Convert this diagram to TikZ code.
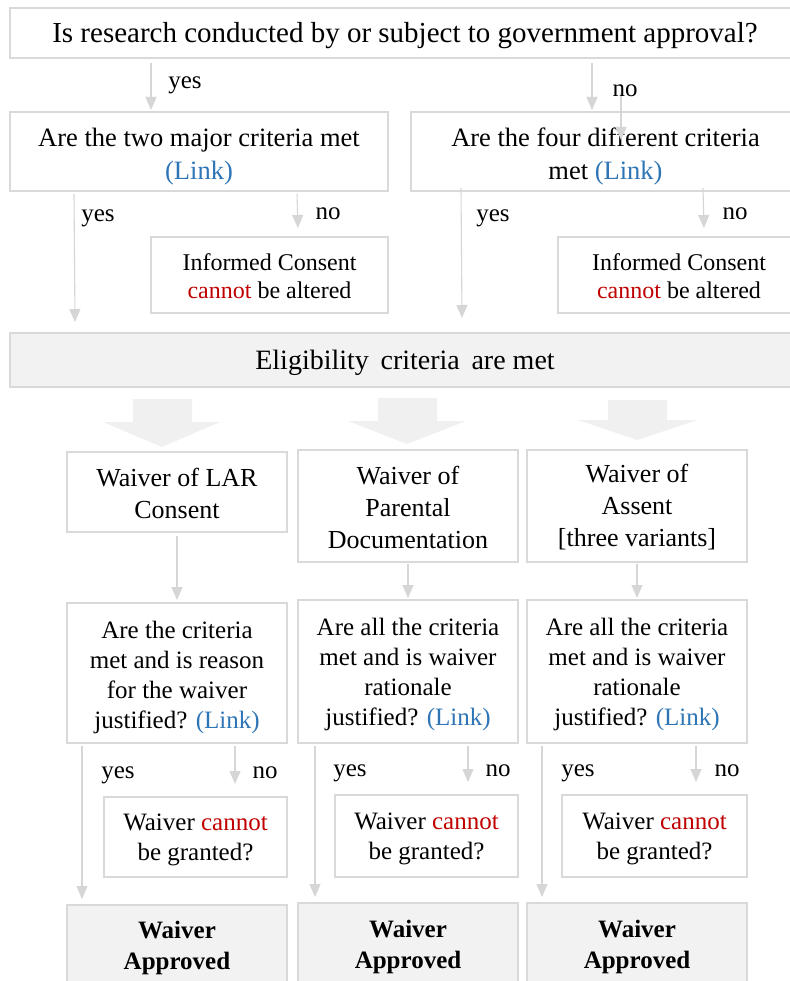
\documentclass[tikz,border=0pt]{standalone}
\usepackage{fontspec}
\setmainfont{Liberation Serif}
\usetikzlibrary{arrows.meta,calc}
\definecolor{bord}{HTML}{D9D9D9}
\definecolor{fillg}{HTML}{F2F2F2}
\definecolor{arr}{HTML}{D6D6D6}
\definecolor{blk}{HTML}{F0F0F0}
\definecolor{lnk}{HTML}{2E75B6}
\definecolor{rd}{HTML}{C00000}
\newcommand{\lnk}{\textcolor{lnk}{(Link)}}
\newcommand{\cant}{\textcolor{rd}{cannot}}
\tikzset{
  box/.style={draw=bord, line width=2pt, fill=white, inner sep=0pt},
  gbox/.style={box, fill=fillg},
  txt/.style={inner sep=0pt, align=center, text=black},
  conn/.style={draw=arr, line width=1.1pt, -{Triangle[width=11pt,length=13pt]}},
  lab/.style={inner sep=0pt, anchor=base, font=\fontsize{25}{30}\selectfont},
  blockarrow/.style={fill=blk, draw=none},
  fa/.style={font=\fontsize{25}{30}\selectfont},
  fb/.style={font=\fontsize{26}{32}\selectfont},
  fc/.style={font=\fontsize{24}{28}\selectfont},
  fd/.style={font=\fontsize{25}{31}\selectfont\bfseries},
}
\begin{document}
\begin{tikzpicture}[x=1pt,y=-1pt]
\useasboundingbox[fill=white] (0,0) rectangle (789,981);

% top row
\node[box, minimum width=790pt, minimum height=50pt] (top) at (405,33) {};
\node[txt, font=\fontsize{29}{34}\selectfont] (topt) at ([yshift=-3pt]top.center) {Is research conducted by or subject to government approval?};
\node[box, minimum width=378pt, minimum height=79pt] (qa) at (199,151.5) {};
\node[txt, font=\fontsize{26.5}{33}\selectfont] (qat) at ([yshift=-5pt]qa.center) {Are the two major criteria met\\\lnk};
\node[box, minimum width=389pt, minimum height=79pt] (qb) at (605.5,151.5) {};
\node[txt, font=\fontsize{26.5}{33}\selectfont] (qbt) at ([yshift=-5pt]qb.center) {Are the four different criteria\\met \lnk};
\node[box, minimum width=237pt, minimum height=76pt] (ca) at (269.5,275) {};
\node[txt, fc] (cat) at ([yshift=-1pt]ca.center) {Informed Consent\\\cant{} be altered};
\node[box, minimum width=242pt, minimum height=76pt] (cb) at (679,275) {};
\node[txt, fc] (cbt) at ([yshift=-1pt]cb.center) {Informed Consent\\\cant{} be altered};
\node[gbox, minimum width=790pt, minimum height=54pt] (elig) at (405,360) {};
\node[txt, font=\fontsize{28}{34}\selectfont] (eligt) at ([yshift=-3pt]elig.center) {Eligibility\, criteria\, are met};

% block arrows
\fill[blockarrow] (133,399) -- (192,399) -- (192,422) -- (220,422) -- (162,447) -- (103,422) -- (133,422) -- cycle;
\fill[blockarrow] (378,398) -- (437,398) -- (437,421) -- (466,421) -- (407,444) -- (348,421) -- (378,421) -- cycle;
\fill[blockarrow] (608,400) -- (667,400) -- (667,420) -- (697,420) -- (637,440) -- (578,420) -- (608,420) -- cycle;

% second row
\node[box, minimum width=220pt, minimum height=80pt] (wa) at (177,492) {};
\node[txt, fb] (wat) at ([yshift=-1pt]wa.center) {Waiver of LAR\\Consent};
\node[box, minimum width=220pt, minimum height=112pt] (wb) at (408,506) {};
\node[txt, fb] (wbt) at ([yshift=-1pt]wb.center) {Waiver of\\Parental\\Documentation};
\node[box, minimum width=220pt, minimum height=112pt] (wc) at (637,506) {};
\node[txt, fb] (wct) at ([yshift=-1pt]wc.center) {Waiver of\\Assent\\{[three variants]}};

% third row
\node[box, minimum width=220pt, minimum height=140pt] (qc1) at (177,673) {};
\node[txt, fa] (qc1t) at ([yshift=-4pt]qc1.center) {Are the criteria\\met and is reason\\for the waiver\\justified? \lnk};
\node[box, minimum width=220pt, minimum height=143pt] (qc2) at (408,671.5) {};
\node[txt, fa] (qc2t) at ([yshift=-3pt]qc2.center) {Are all the criteria\\met and is waiver\\rationale\\justified? \lnk};
\node[box, minimum width=220pt, minimum height=143pt] (qc3) at (637,671.5) {};
\node[txt, fa] (qc3t) at ([yshift=-3pt]qc3.center) {Are all the criteria\\met and is waiver\\rationale\\justified? \lnk};

\node[box, minimum width=183pt, minimum height=80pt] (nk1) at (195.5,837) {};
\node[txt, fa] (nk1t) at ([yshift=-3pt]nk1.center) {Waiver \cant\\be granted?};
\node[box, minimum width=183pt, minimum height=82pt] (nk2) at (426.5,836) {};
\node[txt, fa] (nk2t) at ([yshift=-3pt]nk2.center) {Waiver \cant\\be granted?};
\node[box, minimum width=185pt, minimum height=82pt] (nk3) at (654.5,836) {};
\node[txt, fa] (nk3t) at ([yshift=-3pt]nk3.center) {Waiver \cant\\be granted?};

% bottom row (cut by the page edge)
\node[gbox, minimum width=220pt, minimum height=92pt] (ap1) at (177,951) {};
\node[txt, fd] (ap1t) at ([yshift=3pt]ap1.center) {Waiver\\Approved};
\node[gbox, minimum width=220pt, minimum height=94pt] (ap2) at (408,950) {};
\node[txt, fd] (ap2t) at ([yshift=3pt]ap2.center) {Waiver\\Approved};
\node[gbox, minimum width=220pt, minimum height=94pt] (ap3) at (637,950) {};
\node[txt, fd] (ap3t) at ([yshift=3pt]ap3.center) {Waiver\\Approved};

% free connector ends
\coordinate (eyA) at (75,322);
\coordinate (eyB) at (462,318);
\coordinate (s1) at (621,93);
\coordinate (t1) at (621,140);
\coordinate (nA) at (298,228);
\coordinate (nB) at (704,228);

% connectors
\draw[conn] ([xshift=142pt,yshift=-4pt]top.south west) -- ([xshift=142pt,yshift=1pt]qa.north west);
\draw[conn] ([xshift=583pt,yshift=-4pt]top.south west) -- ([xshift=182pt,yshift=1pt]qb.north west);
\draw[conn] (s1) -- (t1);
\draw[conn] ([xshift=65pt,yshift=-2pt]qa.south west) -- (eyA);
\draw[conn] ([xshift=288pt,yshift=-2pt]qa.south west) -- (nA);
\draw[conn] ([xshift=51pt,yshift=4pt]qb.south west) -- (eyB);
\draw[conn] ([xshift=293pt,yshift=4pt]qb.south west) -- (nB);

\draw[conn] ([yshift=-3pt]wa.south) -- ([yshift=2pt]qc1.north);
\draw[conn] ([yshift=-1pt]wb.south) -- ([yshift=1pt]qc2.north);
\draw[conn] ([yshift=-1pt]wc.south) -- ([yshift=1pt]qc3.north);

\draw[conn] ([xshift=16pt,yshift=-2pt]qc1.south west) -- ([xshift=16pt,yshift=5pt]ap1.north west);
\draw[conn] ([xshift=169pt,yshift=-2pt]qc1.south west) -- ([xshift=132pt,yshift=12pt]nk1.north west);
\draw[conn] ([xshift=18pt,yshift=-2pt]qc2.south west) -- ([xshift=18pt,yshift=5pt]ap2.north west);
\draw[conn] ([xshift=171pt,yshift=-2pt]qc2.south west) -- ([xshift=134pt,yshift=12pt]nk2.north west);
\draw[conn] ([xshift=16pt,yshift=-2pt]qc3.south west) -- ([xshift=16pt,yshift=5pt]ap3.north west);
\draw[conn] ([xshift=170pt,yshift=-2pt]qc3.south west) -- ([xshift=135pt,yshift=12pt]nk3.north west);

% labels (placed on their baselines)
\node[lab] (l1) at (185,89) {yes};
\node[lab] (l2) at (625,97) {no};
\node[lab] (l3) at (98,222) {yes};
\node[lab] (l4) at (328,220) {no};
\node[lab] (l5) at (493,222) {yes};
\node[lab] (l6) at (735,220) {no};
\node[lab] (l7) at (118,778) {yes};
\node[lab] (l8) at (265,778) {no};
\node[lab] (l9) at (350,776) {yes};
\node[lab] (l10) at (498,776) {no};
\node[lab] (l11) at (578,776) {yes};
\node[lab] (l12) at (727,776) {no};
\end{tikzpicture}
\end{document}
